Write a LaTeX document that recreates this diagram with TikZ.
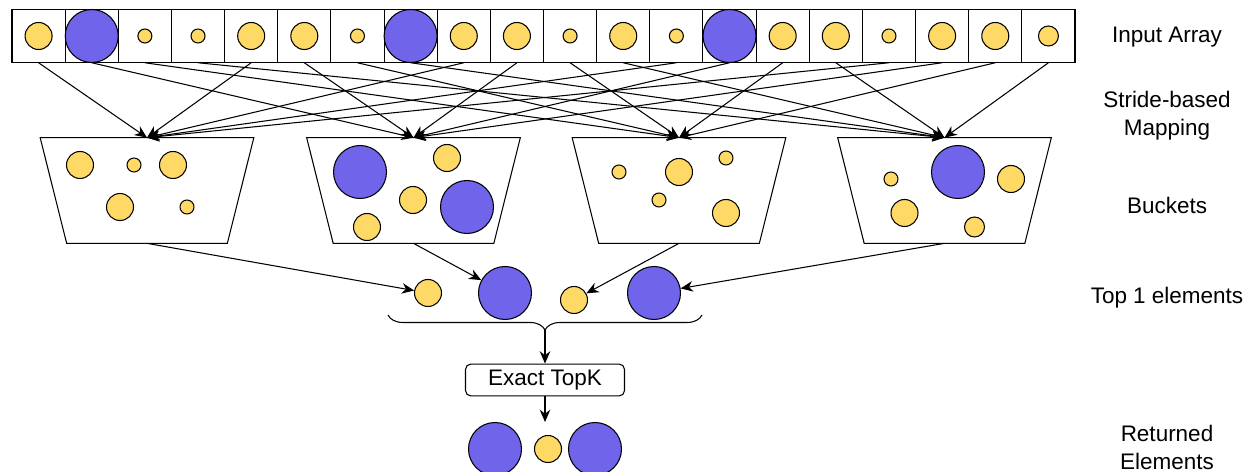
\documentclass[tikz,border=0pt]{standalone}
\usepackage{fontspec}
\setmainfont{Liberation Sans}
\usepackage{tikz}
\usetikzlibrary{positioning}
\usetikzlibrary{calc}
\usetikzlibrary{arrows.meta}
\usetikzlibrary{decorations.pathreplacing}

\definecolor{ballY}{HTML}{FFD966}
\definecolor{ballB}{HTML}{7064EB}

\begin{document}
\begin{tikzpicture}[
    x=0.02cm, y=-0.02cm,                        % one unit = one pixel, y going down
    font=\fontsize{12.8}{15.9}\selectfont,
    ]
% -------------------------------------------------
\tikzset{
  base/.style={draw, line width=0.6pt},
  cell/.style={base, rectangle, minimum width=1.063cm, minimum height=1.05cm, inner sep=0pt},
  ybig/.style={base, circle, fill=ballY, minimum size=0.54cm, inner sep=0pt},
  ymid/.style={base, circle, fill=ballY, minimum size=0.40cm, inner sep=0pt},
  ysml/.style={base, circle, fill=ballY, minimum size=0.28cm, inner sep=0pt},
  bbig/.style={base, circle, fill=ballB, minimum size=1.06cm, inner sep=0pt},
  bucket/.style={rectangle, minimum width=4.26cm, minimum height=2.1cm, inner sep=0pt},
  topk/.style={base, rectangle, rounded corners=3pt, minimum width=3.18cm, minimum height=0.62cm},
  label/.style={align=center},
  line/.style={draw, line width=0.6pt, -{Stealth[length=7pt, width=6pt]}}
}

\useasboundingbox (0,0) rectangle (1254,472);

% input array
\foreach \k/\s in {1/ybig, 2/bbig, 3/ysml, 4/ysml, 5/ybig, 6/ybig, 7/ysml, 8/bbig,
                   9/ybig, 10/ybig, 11/ysml, 12/ybig, 13/ysml, 14/bbig, 15/ybig,
                   16/ybig, 17/ysml, 18/ybig, 19/ybig, 20/ymid} {
  \node [cell] (c\k) at ({12+53.15*(\k-0.5)}, 36) {};
  \node [\s] (e\k) at (c\k) {};
}

% buckets
\node [bucket] (b1) at (147, 190.5) {};
\node [bucket] (b2) at (413.5, 190.5) {};
\node [bucket] (b3) at (679, 190.5) {};
\node [bucket] (b4) at (944.5, 190.5) {};

\foreach \b in {b1,b2,b3,b4}
  \draw [base] (\b.north west) -- (\b.north east) -- ($(\b.south east)+(-26.5,0)$)
    -- ($(\b.south west)+(26.5,0)$) -- cycle;

\node [ybig] (b1a) at (80, 165) {};
\node [ysml] (b1b) at (134, 165) {};
\node [ybig] (b1c) at (173, 165) {};
\node [ybig] (b1d) at (120, 207) {};
\node [ysml] (b1e) at (187, 207) {};

\node [bbig] (b2a) at (360, 172) {};
\node [ybig] (b2b) at (447, 158) {};
\node [ybig] (b2c) at (413, 200) {};
\node [bbig] (b2d) at (467, 207) {};
\node [ybig] (b2e) at (367, 227) {};

\node [ysml] (b3a) at (619, 172) {};
\node [ybig] (b3b) at (679, 172) {};
\node [ysml] (b3c) at (726, 158) {};
\node [ysml] (b3d) at (659, 200) {};
\node [ybig] (b3e) at (726, 213) {};

\node [ysml] (b4a) at (891, 179) {};
\node [bbig] (b4b) at (958, 172) {};
\node [ybig] (b4c) at (1011, 179) {};
\node [ybig] (b4d) at (904.5, 213) {};
\node [ymid] (b4e) at (974.5, 227) {};

% stride-based mapping
\foreach \k in {1,...,20} {
  \pgfmathtruncatemacro{\j}{mod(\k-1,4)+1}
  \path [line] (c\k.south) -- (b\j.north);
}

% top 1 elements
\node [ybig] (t1) at (428, 293) {};
\node [bbig] (t2) at (505, 293) {};
\node [ybig] (t3) at (574, 300) {};
\node [bbig] (t4) at (654, 293) {};

\path [line] (b1.south) -- (t1);
\path [line] (b2.south) -- (t2);
\path [line] (b3.south) -- (t3);
\path [line] (b4.south) -- (t4);

\draw [base, decorate, decoration={brace, mirror, amplitude=0.3cm}] (388,315) -- (702,315);
\coordinate (brc) at (545, 330);

\node [topk] (tk) at (545, 380) {Exact TopK};
\coordinate (ret) at (545, 422);

\path [line] (brc) -- (tk.north);
\path [line] (tk.south) -- (ret);

% returned elements
\node [bbig] (r1) at (495, 449) {};
\node [ybig] (r2) at (548, 449) {};
\node [bbig] (r3) at (595, 449) {};

% row labels
\node [label] (lin) at (1167, 37) {Input Array};
\node [label] (lmap) at (1167, 116) {Stride-based\\Mapping};
\node [label] (lbuck) at (1167, 205) {Buckets};
\node [label] (ltop) at (1167, 298) {Top 1 elements};
\node [label] (lret) at (1167, 447) {Returned\\Elements};

\end{tikzpicture}
\end{document}
